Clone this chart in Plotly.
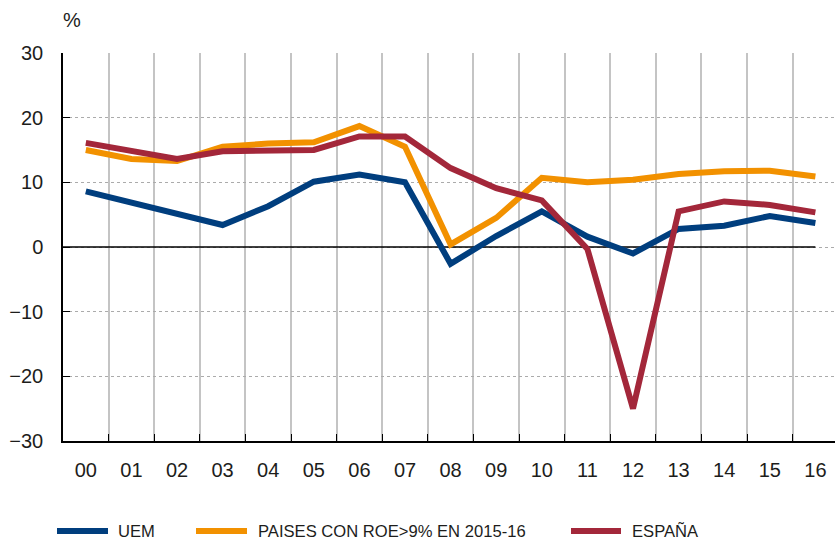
import plotly.graph_objects as go

years = ["00", "01", "02", "03", "04", "05", "06", "07", "08", "09",
         "10", "11", "12", "13", "14", "15", "16"]
uem = [8.6, 6.9, 5.3, 3.4, 6.3, 10.1, 11.2, 10.0, -2.6, 1.7,
       5.5, 1.6, -1.0, 2.8, 3.3, 4.8, 3.7]
paises = [15.0, 13.6, 13.3, 15.5, 16.0, 16.2, 18.7, 15.5, 0.4, 4.5,
          10.7, 10.0, 10.4, 11.3, 11.7, 11.8, 10.9]
espana = [16.1, 14.9, 13.6, 14.8, 15.0, 15.0, 17.1, 17.1, 12.2, 9.1,
          7.2, -0.3, -25.0, 5.5, 7.05, 6.5, 5.35]
y_ticks = [-30, -20, -10, 0, 10, 20, 30]

names = ["UEM", "PAISES CON ROE>9% EN 2015-16", "ESPAÑA"]
colors = ["#003e7e", "#f29100", "#a3273a"]
series = [uem, paises, espana]

W, H = 835, 541
L, R, T, B = 63, 0, 53, 100
pw, ph = W - L - R, H - T - B

xs = list(range(len(years)))
fig = go.Figure()
for name, col, vals in zip(names, colors, series):
    fig.add_trace(go.Scatter(x=xs, y=vals, mode="lines", name=name,
                             line=dict(color=col, width=6),
                             showlegend=False))

txt = "#1d1d1b"
font = dict(family="Liberation Sans, Arial, sans-serif", size=20, color=txt)

# zero line up to last category
fig.add_shape(type="line", xref="x", yref="y", x0=-0.5, x1=xs[-1], y0=0, y1=0,
              line=dict(color="#000000", width=1.5), layer="between")

# manual legend
def px_x(p):
    return (p - L) / pw

def px_y(p):
    return (H - B - p) / ph

leg_y = 531
leg_items = [(57, 108, 117), (196, 247, 257), (571, 621, 631)]
for (x0, x1, tx), name, col in zip(leg_items, names, colors):
    fig.add_shape(type="line", xref="paper", yref="paper",
                  x0=px_x(x0), x1=px_x(x1), y0=px_y(leg_y), y1=px_y(leg_y),
                  line=dict(color=col, width=6))
    fig.add_annotation(xref="paper", yref="paper", x=px_x(tx), y=px_y(leg_y),
                       text=name, showarrow=False, xanchor="left", yanchor="middle",
                       borderpad=0,
                       font=dict(family="Liberation Sans, Arial",
                                 size=16.6, color=txt))

fig.add_annotation(xref="paper", yref="paper", x=px_x(61), y=px_y(20),
                   text="%", showarrow=False, xanchor="left", yanchor="middle",
                   font=font)

fig.update_layout(
    width=W, height=H,
    margin=dict(l=L, r=R, t=T, b=B, pad=0),
    paper_bgcolor="white", plot_bgcolor="white",
    font=font,
    xaxis=dict(
        range=[-0.5, -0.5 + pw / 45.6],
        tickvals=xs, ticktext=years,
        showgrid=False, zeroline=False,
        ticks="", showline=True, linecolor="#000000", linewidth=1.5,
        ticklabelstandoff=10,
        tickfont=font,
        minor=dict(tickvals=[i + 0.5 for i in xs], ticks="inside", ticklen=7,
                   tickcolor="#000000", tickwidth=1.2,
                   showgrid=True, gridcolor="#c4c4c4", gridwidth=1.5),
    ),
    yaxis=dict(
        range=[-30, 30], tickvals=y_ticks,
        showgrid=True, gridcolor="#ababab", gridwidth=1, griddash="3px,3px",
        zeroline=False,
        ticks="inside", ticklen=7, tickcolor="#000000", tickwidth=1.2,
        showline=True, linecolor="#000000", linewidth=1.5,
        ticklabelstandoff=14,
        tickfont=font,
    ),
)

fig.write_html("out.html", config={"displayModeBar": False},
               post_script="document.body.style.margin='0';document.body.style.overflow='hidden';")
